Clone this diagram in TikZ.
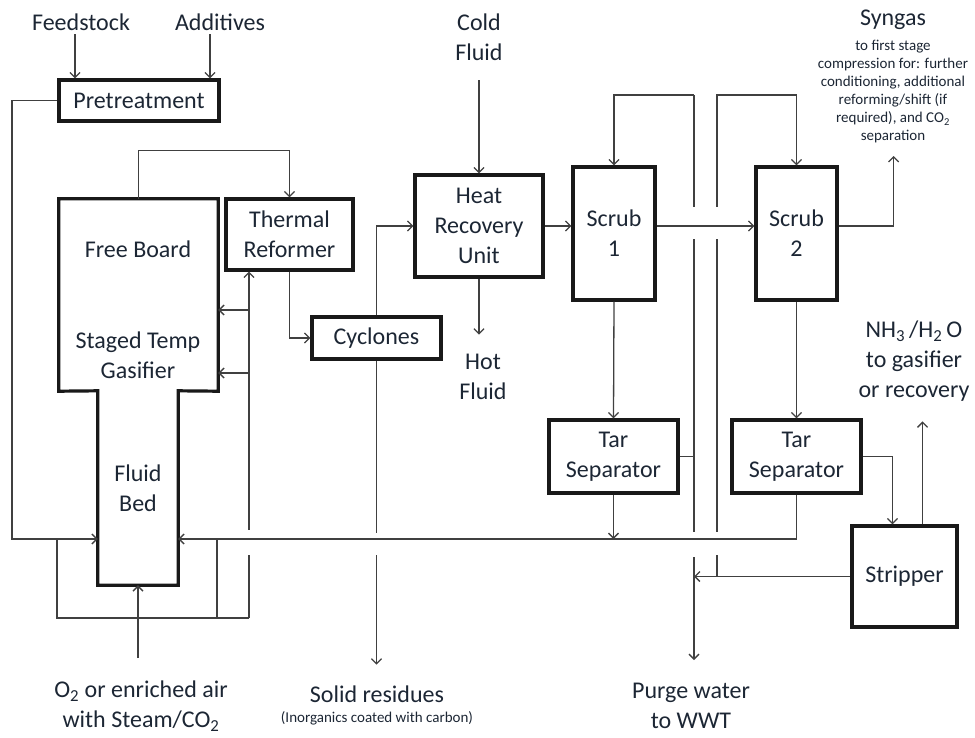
\documentclass[tikz,border=0pt]{standalone}
\usepackage{fontspec}
\setmainfont{Carlito}
\usetikzlibrary{positioning,arrows.meta}

\definecolor{ink}{RGB}{28,38,52}
\definecolor{pipe}{RGB}{64,64,64}
\newcommand\bigtxt{\fontsize{24}{30}\selectfont}
\newcommand\smalltxt{\fontsize{15}{18}\selectfont}

\tikzset{
  tag/.style={text=ink, align=center, inner sep=0pt, font=\bigtxt},
  unit/.style={tag, draw=black!90, line width=3.2pt},
  flow/.style={draw=pipe, line width=1.3pt},
  hop/.style={draw=white, line width=5pt},
}

\begin{document}
\begin{tikzpicture}[x=1pt, y=-1pt, >={Straight Barb[length=5pt,width=10pt]}]
\useasboundingbox (0,0) rectangle (975,737);

% main units
\node [unit, minimum width=160, minimum height=41] (pre) at (139,100.5) {Pretreatment};
\node [unit, minimum width=127, minimum height=71] (therm) at (289.5,234.5) {Thermal\\Reformer};
\node [unit, minimum width=129, minimum height=42] (cyc) at (376.5,338) {Cyclones};
\node [unit, minimum width=128, minimum height=102] (hru) at (479,226) {Heat\\Recovery\\Unit};
\node [unit, minimum width=82, minimum height=133] (scr1) at (614,233.5) {Scrub\\1};
\node [unit, minimum width=81, minimum height=133] (scr2) at (796.5,233.5) {Scrub\\2};
\node [unit, minimum width=129, minimum height=73] (tar1) at (613.5,456.5) {Tar\\Separator};
\node [unit, minimum width=129, minimum height=73] (tar2) at (796.5,456.5) {Tar\\Separator};
\node [unit, minimum width=105, minimum height=101] (strip) at (904.5,576.5) {Stripper};

% gasifier: free board over fluid bed
\node [tag, minimum width=159, minimum height=192] (gas) at (138.5,295) {};
\node [tag, minimum width=80, minimum height=194] (bed) at (138,488) {Fluid\\Bed};
\draw [black!90, line width=3.2pt] (gas.south west) -- (gas.north west) -- (gas.north east)
  -- (gas.south east) -- (bed.north east) -- (bed.south east) -- (bed.south west)
  -- (bed.north west) -- cycle;
\node [tag] (fb) at (138,249) {Free Board};
\node [tag] (stg) at (138,355) {Staged Temp\\Gasifier};

% streams in and out
\node [tag] (feed) at (81,22) {Feedstock};
\node [tag] (add) at (220,22) {Additives};
\node [tag] (cold) at (479,37) {Cold\\Fluid};
\node [tag] (hot) at (483,377) {Hot\\Fluid};
\node [tag] (syn) at (893,20) {Syngas};
\node [tag, font=\smalltxt] (syn-note) at (893,92) {to first stage\\compression for: further\\conditioning, additional\\reforming/shift (if\\required), and CO\textsubscript{2}\\separation};
\node [tag] (nh3) at (914,361) {NH\textsubscript{3}\,/H\textsubscript{2}\,O\\to gasifier\\or recovery};
\node [tag] (o2) at (141,706) {O\textsubscript{2} or enriched air\\with Steam/CO\textsubscript{2}};
\node [tag] (solid) at (377,694) {Solid residues};
\node [tag, font=\smalltxt] (solid-note) at (377,718) {(Inorganics coated with carbon)};
\node [tag] (purge) at (691,706) {Purge water\\to WWT};

% routing points
\coordinate (rec) at (0,539);
\coordinate (lft) at (12,539);
\coordinate (w1) at (694,95);
\coordinate (w2) at (717,95);
\coordinate (lp1) at (57,618);
\coordinate (lp2) at (217,618);
\coordinate (lp3) at (249,618);
\coordinate (feed-in) at (75,34);
\coordinate (add-in) at (210,34);
\coordinate (cold-in) at (479,80);
\coordinate (o2-in) at (138,658);

% feed side
\draw [flow, ->] (feed-in) -- (feed-in |- pre.north);
\draw [flow, ->] (add-in) -- (add-in |- pre.north);
\draw [flow, ->] (pre.west) -| (lft) -- (lft -| bed.west);
\draw [flow, ->] (o2-in) -- (bed.south);

% gas train
\draw [flow, ->] (gas.north) -- ++(0,-48) -| (therm.north);
\draw [flow, ->] (therm.south) |- (cyc.west);
\draw [flow, ->] (cyc.north) |- (hru.west);
\draw [flow, ->] (cyc.south) -- ++(0,304);
\draw [flow, ->] (cold-in) -- (hru.north);
\draw [flow, ->] (hru.south) -- ++(0,56);
\draw [flow, ->] (hru.east) -- (hru.east -| scr1.west);
\draw [flow, ->] (scr2.east |- hru.east) -- ++(55,0) -- ++(0,-70);

% water circuit
\draw [flow, ->] (scr1.south) -- (tar1.north);
\draw [flow, ->] (scr2.south) -- (tar2.north);
\draw [flow, ->] (tar1.south) -- (tar1.south |- rec);
\draw [flow] (tar1.east) -- (tar1.east -| w1);
\draw [flow, ->] (w1) -| (scr1.north);
\draw [flow, ->] (w1) -- ++(0,565);
\draw [flow, ->] (strip.west -| w2) -- (w2) -| (scr2.north);
\draw [flow, ->] (strip.west) -- (strip.west -| w1);
\draw [flow, ->] (tar2.east) -| ([xshift=-12pt]strip.north);
\draw [flow, ->] ([xshift=18pt]strip.north) -- ++(0,-103);

% recycle loop to gasifier and reformer
\draw [flow] (lp1 |- rec) -- (lp1) -- (lp3);
\draw [flow] (lp2 |- rec) -- (lp2);
\draw [flow, ->] (lp3) -- (lp3 |- therm.south);
\foreach \y [count=\i] in {310,373} {
  \coordinate (br-\i) at (249,\y);
  \draw [flow, ->] (br-\i) -- (br-\i -| gas.east);
}

% line hops
\foreach \x/\a/\b in {694/207/239, 717/207/239, 694/532/557, 717/532/555, 377/533/555, 249/530/555}
  \draw [hop] (\x,\a) -- (\x,\b);

\draw [flow, ->] (scr1.east |- hru.east) -- (scr2.west |- hru.east);
\draw [flow, ->] (tar2.south) |- (bed.east |- rec);

\end{tikzpicture}
\end{document}
